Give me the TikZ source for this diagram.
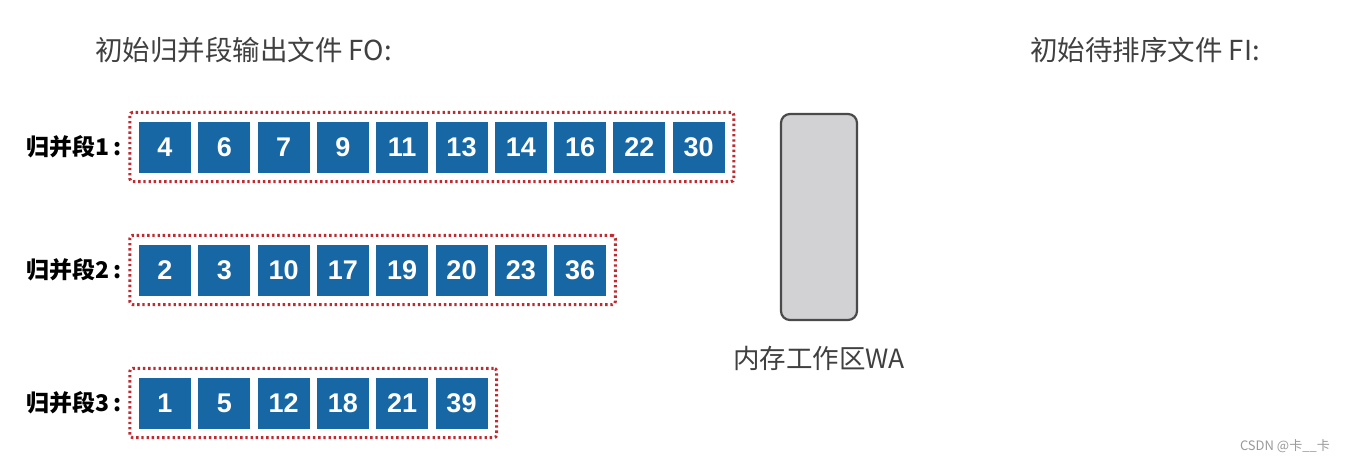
\documentclass[tikz,border=0pt]{standalone}
\usepackage{fontspec}
\setmainfont{Liberation Sans}
\newfontfamily\cjk{Noto Sans CJK SC}
\usetikzlibrary{fit}
\definecolor{boxblue}{HTML}{1667A3}
\definecolor{dotred}{HTML}{C02A30}
\definecolor{wagray}{HTML}{D2D2D4}
\definecolor{waedge}{HTML}{4A4A4A}
\definecolor{txtgray}{HTML}{404040}
\definecolor{wmgray}{HTML}{9A9A9A}
\begin{document}
\begin{tikzpicture}[x=1pt,y=-1pt,
  numbox/.style={fill=boxblue, minimum width=52pt, minimum height=51pt, inner sep=0pt,
    text=white, font=\fontsize{27}{27}\selectfont\bfseries},
  segframe/.style={draw=dotred, line width=3pt, dash pattern=on 2.4pt off 2.8pt,
    rounded corners=3pt, inner sep=9pt},
  seglabel/.style={anchor=east, text=black, font=\cjk\fontsize{23}{23}\selectfont\bfseries, inner sep=0pt},
  title/.style={anchor=west, text=txtgray, font=\cjk\fontsize{27.5}{27.5}\selectfont, inner sep=0pt},
  wabox/.style={draw=waedge, fill=wagray, line width=2.2pt, rounded corners=9pt,
    minimum width=76pt, minimum height=206pt, inner sep=0pt}]
\useasboundingbox[fill=white] (0,0) rectangle (1345,463);

\node[title] (tfo) at (95,50) {初始归并段输出文件 FO:};
\node[title] (tfi) at (1030,50) {初始待排序文件 FI:};

% row 1
\foreach \v [count=\i] in {4,6,7,9,11,13,14,16,22,30}
  \node[numbox] (a\i) at ({165+59.3*(\i-1)},147) {\v};
\node[segframe, fit=(a1)(a10)] (f1) {};
\node[seglabel] (l1) at (122,147) {归并段1\,:};

% row 2
\foreach \v [count=\i] in {2,3,10,17,19,20,23,36}
  \node[numbox] (b\i) at ({165+59.3*(\i-1)},270) {\v};
\node[segframe, fit=(b1)(b8)] (f2) {};
\node[seglabel] (l2) at (122,270) {归并段2\,:};

% row 3
\foreach \v [count=\i] in {1,5,12,18,21,39}
  \node[numbox] (c\i) at ({165+59.3*(\i-1)},403) {\v};
\node[segframe, fit=(c1)(c6)] (f3) {};
\node[seglabel] (l3) at (122,403) {归并段3\,:};

% work area
\node[wabox] (wa) at (819,217) {};
\node[anchor=north, text=txtgray, font=\cjk\fontsize{26.5}{26.5}\selectfont, inner sep=0pt] (walabel) at (819,346) {内存工作区WA};

\node[anchor=east, text=wmgray, font=\cjk\fontsize{13}{13}\selectfont, inner sep=0pt] (wm) at (1330,446) {CSDN @卡\_\_卡};
\end{tikzpicture}
\end{document}
